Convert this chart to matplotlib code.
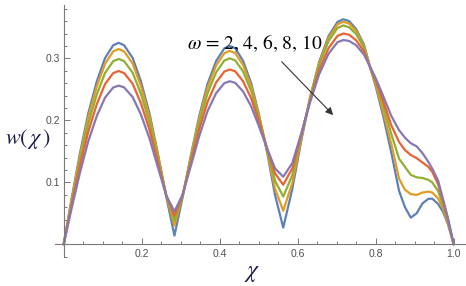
import matplotlib
matplotlib.use("Agg")
import matplotlib.pyplot as plt
from matplotlib.ticker import FixedLocator, MultipleLocator

plt.rcParams['mathtext.fontset'] = 'stix'

# ---- data ----
chi = [0, 0.021, 0.042, 0.063, 0.085, 0.106, 0.127, 0.141,
       0.155, 0.177, 0.198, 0.220, 0.241, 0.263, 0.284,
       0.305, 0.327, 0.348, 0.369, 0.391, 0.412, 0.426,
       0.440, 0.460, 0.481, 0.501, 0.522, 0.542, 0.563,
       0.586, 0.609, 0.632, 0.655, 0.679, 0.702, 0.717,
       0.732, 0.75, 0.77, 0.785, 0.80, 0.82, 0.84, 0.86, 0.875, 0.89,
       0.905, 0.92, 0.935, 0.945, 0.96, 0.973, 0.985, 1.0]

w_omega2 = [0, 0.0757, 0.1476, 0.2109, 0.2629, 0.3003, 0.3211, 0.325,
            0.3211, 0.3004, 0.2631, 0.2112, 0.1481, 0.0770, 0.014,
            0.0758, 0.1458, 0.2080, 0.2590, 0.2957, 0.3162, 0.320,
            0.3162, 0.2959, 0.2594, 0.2087, 0.1473, 0.0791, 0.027,
            0.0886, 0.1665, 0.2365, 0.2941, 0.3356, 0.3587, 0.363,
            0.360, 0.347, 0.322, 0.287, 0.255, 0.205, 0.148, 0.086, 0.060, 0.043,
            0.050, 0.066, 0.0733, 0.0737, 0.065, 0.052, 0.033, 0.0]

w_omega4 = [0, 0.0734, 0.1430, 0.2044, 0.2548, 0.2911, 0.3112, 0.315,
            0.3112, 0.2913, 0.2554, 0.2057, 0.1455, 0.0790, 0.030,
            0.0783, 0.1441, 0.2038, 0.2530, 0.2885, 0.3083, 0.312,
            0.3084, 0.2890, 0.2544, 0.2066, 0.1496, 0.0897, 0.054,
            0.0988, 0.1699, 0.2366, 0.2922, 0.3324, 0.3548, 0.359,
            0.356, 0.344, 0.319, 0.287, 0.258, 0.212, 0.162, 0.106, 0.088, 0.081,
            0.0796, 0.0835, 0.085, 0.0835, 0.074, 0.057, 0.035, 0.0]

w_omega6 = [0, 0.0697, 0.1357, 0.1941, 0.2419, 0.2763, 0.2954, 0.299,
            0.2955, 0.2767, 0.2429, 0.1962, 0.1399, 0.0789, 0.038,
            0.0791, 0.1403, 0.1968, 0.2437, 0.2776, 0.2965, 0.300,
            0.2966, 0.2788, 0.2469, 0.2033, 0.1525, 0.1024, 0.077,
            0.1112, 0.1743, 0.2365, 0.2891, 0.3275, 0.3490, 0.353,
            0.350, 0.339, 0.317, 0.287, 0.262, 0.222, 0.178, 0.138, 0.125, 0.112,
            0.108, 0.107, 0.104, 0.100, 0.086, 0.063, 0.038, 0.0]

w_omega8 = [0, 0.0651, 0.1269, 0.1814, 0.2261, 0.2583, 0.2761, 0.2795,
            0.2762, 0.2589, 0.2277, 0.1847, 0.1333, 0.0790, 0.046,
            0.0795, 0.1344, 0.1863, 0.2297, 0.2612, 0.2787, 0.282,
            0.2790, 0.2631, 0.2350, 0.1971, 0.1540, 0.1142, 0.096,
            0.1224, 0.1765, 0.2324, 0.2808, 0.3163, 0.3362, 0.340,
            0.338, 0.329, 0.311, 0.287, 0.265, 0.230, 0.192, 0.165, 0.152, 0.144,
            0.139, 0.132, 0.125, 0.117, 0.097, 0.069, 0.041, 0.0]

w_omega10 = [0, 0.0596, 0.1162, 0.1661, 0.2071, 0.2365, 0.2529, 0.256,
             0.2531, 0.2374, 0.2094, 0.1710, 0.1254, 0.0788, 0.053,
             0.0801, 0.1284, 0.1754, 0.2150, 0.2439, 0.2600, 0.263,
             0.2604, 0.2466, 0.2222, 0.1898, 0.1539, 0.1224, 0.109,
             0.1309, 0.1784, 0.2294, 0.2742, 0.3073, 0.3260, 0.3295,
             0.328, 0.321, 0.306, 0.287, 0.268, 0.238, 0.207, 0.184, 0.172, 0.163,
             0.158, 0.147, 0.133, 0.122, 0.103, 0.072, 0.043, 0.0]

series = [w_omega2, w_omega4, w_omega6, w_omega8, w_omega10]
colors = ['#5E81B5', '#E19C24', '#8FB032', '#EB6235', '#8778B3']

x_ticks = [0.2, 0.4, 0.6, 0.8, 1.0]
x_ticklabels = ['0.2', '0.4', '0.6', '0.8', '1.0']
y_ticks = [0.1, 0.2, 0.3]
y_ticklabels = ['0.1', '0.2', '0.3']

annotation = r'$\omega$ = 2, 4, 6, 8, 10'

# ---- figure ----
fig = plt.figure(figsize=(4.66, 2.86), dpi=100)
ax = fig.add_axes([0.1182, 0.1024, 0.8805, 0.8801])

for ys, c in zip(series, colors):
    ax.plot(chi, ys, color=c, lw=1.6, solid_joinstyle='round',
            solid_capstyle='round')

ax.set_xlim(-0.022, 1.03)
ax.set_ylim(-0.02, 0.386)

for s in ['top', 'right']:
    ax.spines[s].set_visible(False)
ax.spines['left'].set_position(('data', 0))
ax.spines['bottom'].set_position(('data', 0))
for s in ['left', 'bottom']:
    ax.spines[s].set_color('#7a7a7a')
    ax.spines[s].set_linewidth(0.8)

ax.xaxis.set_major_locator(FixedLocator(x_ticks))
ax.set_xticklabels(x_ticklabels)
ax.xaxis.set_minor_locator(MultipleLocator(0.05))
ax.yaxis.set_major_locator(FixedLocator(y_ticks))
ax.set_yticklabels(y_ticklabels)
ax.yaxis.set_minor_locator(MultipleLocator(0.02))

ax.tick_params(which='both', direction='in', color='#7a7a7a', width=0.7,
               labelsize=7.5, labelcolor='#505050')
ax.tick_params(which='major', length=4)
ax.tick_params(which='minor', length=2.3)
ax.tick_params(axis='x', pad=3.5)
ax.tick_params(axis='y', pad=2.5)
for lab in ax.get_xticklabels() + ax.get_yticklabels():
    lab.set_fontfamily('Liberation Sans')

ax.annotate('', xy=(0.691, 0.2085), xytext=(0.559, 0.2945),
            arrowprops=dict(arrowstyle='-|>', color='#333333', lw=0.8,
                            mutation_scale=11, shrinkA=0, shrinkB=0))
ax.text(0.4905, 0.3247, annotation, ha='center', va='center',
        fontsize=14, fontfamily='STIXGeneral', color='black')

fig.text(0.060, 0.514, r'$w(\,\chi\,)$', ha='center', va='center',
         fontsize=16, color='#1a1a4a')
fig.text(0.541, 0.049, r'$\chi$', ha='center', va='center',
         fontsize=17, color='#1a1a4a')

fig.savefig('out.png', dpi=100)
